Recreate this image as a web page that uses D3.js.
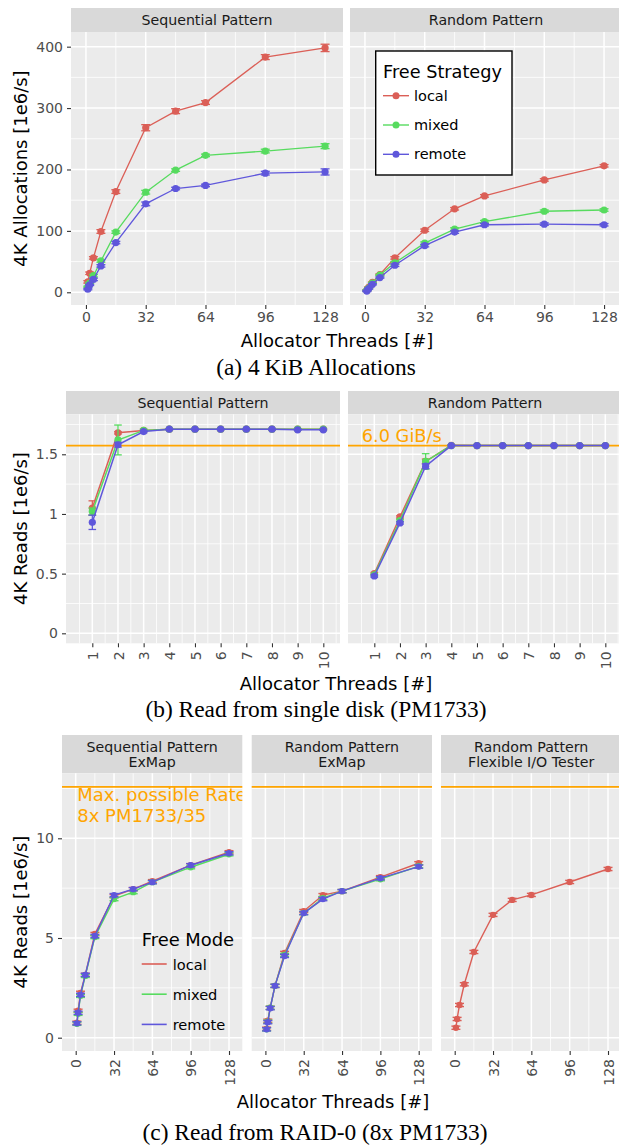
<!DOCTYPE html>
<html>
<head>
<meta charset="utf-8">
<script src="https://cdn.jsdelivr.net/npm/d3@7"></script>
<style>
  body { margin: 0; background: #fff; }
  text { font-family: "DejaVu Sans", sans-serif; }
</style>
</head>
<body>
<div id="chart"></div>
<script>
/*
------------------------------
DATA
------------------------------
*/
const modes = ["local", "mixed", "remote"];
const modeColors = ["#db5f57", "#57db5f", "#5f57db"];

const threads = [1, 2, 4, 8, 16, 32, 48, 64, 96, 128];
const diskThreads = [1, 2, 3, 4, 5, 6, 7, 8, 9, 10];

// (a) 4 KiB allocations [1e6/s]
const allocSeqLocal = [17, 31, 56, 99, 164, 268, 295, 309, 383, 398];
const allocSeqMixed = [9, 15, 27, 51, 98, 163, 199, 223, 230, 238];
const allocSeqRemote = [5, 12, 21, 43, 81, 144, 169, 174, 194, 196];
const allocSeqLocalErr = [2, 2, 2, 3, 3, 5, 4, 3, 4, 6];
const allocSeqMixedErr = [1, 1, 2, 2, 2, 3, 2, 2, 3, 4];
const allocSeqRemoteErr = [1, 1, 2, 2, 2, 3, 2, 2, 3, 5];
const allocRndLocal = [3, 8, 16, 29, 56, 101, 136, 157, 183, 206];
const allocRndMixed = [3, 7, 15, 28, 48, 80, 103, 115, 132, 134];
const allocRndRemote = [2, 6, 13, 24, 44, 76, 98, 110, 111, 110];
const allocRndLocalErr = [1, 1, 1, 1, 2, 2, 2, 2, 2, 2];
const allocRndMixedErr = [1, 1, 1, 1, 2, 2, 2, 2, 2, 2];
const allocRndRemoteErr = [1, 1, 1, 1, 2, 2, 2, 2, 2, 2];

// (b) single disk reads [1e6/s]
const diskSeqLocal = [1.05, 1.68, 1.70, 1.71, 1.71, 1.71, 1.71, 1.71, 1.71, 1.71];
const diskSeqMixed = [1.02, 1.62, 1.70, 1.71, 1.71, 1.71, 1.71, 1.71, 1.71, 1.71];
const diskSeqRemote = [0.93, 1.58, 1.69, 1.71, 1.71, 1.71, 1.71, 1.71, 1.705, 1.705];
const diskSeqLocalErr = [0.06, 0.01, 0.01, 0.005, 0.005, 0.005, 0.005, 0.005, 0.005, 0.005];
const diskSeqMixedErr = [0.03, 0.125, 0.01, 0.005, 0.005, 0.005, 0.005, 0.005, 0.005, 0.005];
const diskSeqRemoteErr = [0.06, 0.02, 0.01, 0.005, 0.005, 0.005, 0.005, 0.005, 0.005, 0.005];
const diskRndLocal = [0.50, 0.975, 1.44, 1.575, 1.573, 1.573, 1.573, 1.573, 1.573, 1.573];
const diskRndMixed = [0.49, 0.945, 1.44, 1.573, 1.573, 1.573, 1.573, 1.573, 1.573, 1.573];
const diskRndRemote = [0.48, 0.925, 1.40, 1.573, 1.573, 1.573, 1.573, 1.573, 1.573, 1.573];
const diskRndLocalErr = [0.01, 0.01, 0.02, 0.005, 0.005, 0.005, 0.005, 0.005, 0.005, 0.005];
const diskRndMixedErr = [0.01, 0.01, 0.065, 0.005, 0.005, 0.005, 0.005, 0.005, 0.005, 0.005];
const diskRndRemoteErr = [0.01, 0.01, 0.02, 0.005, 0.005, 0.005, 0.005, 0.005, 0.005, 0.005];
const diskLimit = 1.5729;   // 6.0 GiB/s

// (c) RAID-0 reads [1e6/s]
const raidSeqLocal = [0.75, 1.35, 2.25, 3.15, 5.2, 7.1, 7.45, 7.85, 8.65, 9.3];
const raidSeqMixed = [0.7, 1.2, 2.1, 3.1, 5.05, 6.95, 7.3, 7.8, 8.55, 9.2];
const raidSeqRemote = [0.72, 1.25, 2.15, 3.15, 5.1, 7.15, 7.45, 7.8, 8.65, 9.25];
const raidRndLocal = [0.45, 0.85, 1.5, 2.6, 4.25, 6.35, 7.15, 7.35, 8.05, 8.75];
const raidRndMixed = [0.42, 0.8, 1.5, 2.6, 4.15, 6.25, 7.0, 7.35, 7.95, 8.6];
const raidRndRemote = [0.42, 0.78, 1.48, 2.6, 4.1, 6.25, 6.95, 7.35, 8.0, 8.58];
const raidFioLocal = [0.5, 0.94, 1.64, 2.68, 4.3, 6.16, 6.91, 7.16, 7.81, 8.46];
const raidErr = [0.08, 0.08, 0.08, 0.08, 0.08, 0.08, 0.08, 0.08, 0.08, 0.08];
const raidLimit = 12.58;    // 8x PM1733 / 35

const threadTicks = [0, 32, 64, 96, 128];
const threadMinor = [16, 48, 80, 112];

/*
------------------------------
METHOD: set up the svg
------------------------------
*/
const width = 619, height = 1146;
const svg = d3.select("#chart").append("svg")
    .attr("width", width)
    .attr("height", height);

const orange = "#ffa500";

/*
------------------------------
METHOD: draw one facet (strip, panel, grid, axes)
------------------------------
*/
function drawFacet(f) {
  let x = d3.scaleLinear().domain(f.xDomain).range([f.left, f.right]);
  let y = d3.scaleLinear().domain(f.yDomain).range([f.bottom, f.top]);
  let g = svg.append("g");

  g.append("rect")
    .attr("x", f.left).attr("y", f.stripTop)
    .attr("width", f.right - f.left).attr("height", f.top - f.stripTop)
    .attr("fill", "#d9d9d9");

  let mid = (f.stripTop + f.top) / 2;
  f.strip.forEach(function(s, i) {
    g.append("text")
      .attr("x", (f.left + f.right) / 2)
      .attr("y", mid + (i - (f.strip.length - 1) / 2) * 14.7)
      .attr("dy", "0.36em")
      .attr("text-anchor", "middle")
      .attr("font-size", 14.2)
      .attr("fill", "#1a1a1a")
      .text(s);
  });

  g.append("rect")
    .attr("x", f.left).attr("y", f.top)
    .attr("width", f.right - f.left).attr("height", f.bottom - f.top)
    .attr("fill", "#ebebeb");

  // minor then major grid
  g.selectAll(".xminor").data(f.xMinor).join("line")
    .attr("x1", d => x(d)).attr("x2", d => x(d))
    .attr("y1", f.top).attr("y2", f.bottom)
    .attr("stroke", "#fff").attr("stroke-width", 0.8);
  g.selectAll(".yminor").data(f.yMinor).join("line")
    .attr("y1", d => y(d)).attr("y2", d => y(d))
    .attr("x1", f.left).attr("x2", f.right)
    .attr("stroke", "#fff").attr("stroke-width", 0.8);
  g.selectAll(".xmajor").data(f.xTicks).join("line")
    .attr("x1", d => x(d)).attr("x2", d => x(d))
    .attr("y1", f.top).attr("y2", f.bottom)
    .attr("stroke", "#fff").attr("stroke-width", 1.5);
  g.selectAll(".ymajor").data(f.yTicks).join("line")
    .attr("y1", d => y(d)).attr("y2", d => y(d))
    .attr("x1", f.left).attr("x2", f.right)
    .attr("stroke", "#fff").attr("stroke-width", 1.5);

  // x axis
  let xAxis = g.append("g")
    .attr("transform", "translate(0," + f.bottom + ")")
    .call(d3.axisBottom(x).tickValues(f.xTicks).tickSize(4).tickPadding(3).tickFormat(d3.format("d")));
  styleAxis(xAxis);
  if (f.rotateX) {
    xAxis.selectAll("text")
      .attr("transform", "rotate(-90)")
      .attr("x", -8).attr("y", 0)
      .attr("dy", "0.36em")
      .attr("text-anchor", "end");
  }

  // y axis only on the first facet of a row
  if (f.yLabels) {
    let yAxis = g.append("g")
      .attr("transform", "translate(" + f.left + ",0)")
      .call(d3.axisLeft(y).tickValues(f.yTicks).tickSize(4).tickPadding(4).tickFormat((d, i) => f.yLabels[i]));
    styleAxis(yAxis);
  }

  return {x: x, y: y, g: g, f: f};
}

function styleAxis(a) {
  a.attr("font-family", null).attr("font-size", null);
  a.select(".domain").remove();
  a.selectAll("line").attr("stroke", "#333").attr("stroke-width", 1.1);
  a.selectAll("text").attr("fill", "#4d4d4d").attr("font-size", 14);
}

/*
------------------------------
METHOD: draw one series (line, error bars, points)
------------------------------
*/
function drawSeries(fc, xs, ys, errs, color, o) {
  let pts = xs.map((v, i) => ({x: v, y: ys[i], e: errs[i]}));
  let line = d3.line().x(d => fc.x(d.x)).y(d => fc.y(d.y));

  fc.g.append("path").datum(pts)
    .attr("fill", "none")
    .attr("stroke", color)
    .attr("stroke-width", o.lw)
    .attr("d", line);

  fc.g.selectAll(null).data(pts).join("circle")
    .attr("cx", d => fc.x(d.x))
    .attr("cy", d => fc.y(d.y))
    .attr("r", o.r)
    .attr("fill", color);

  let eb = fc.g.selectAll(null).data(pts).join("g")
    .attr("stroke", color).attr("stroke-width", o.ew);
  eb.append("line")
    .attr("x1", d => fc.x(d.x)).attr("x2", d => fc.x(d.x))
    .attr("y1", d => fc.y(d.y - d.e)).attr("y2", d => fc.y(d.y + d.e));
  eb.append("line")
    .attr("x1", d => fc.x(d.x) - o.cap).attr("x2", d => fc.x(d.x) + o.cap)
    .attr("y1", d => fc.y(d.y - d.e)).attr("y2", d => fc.y(d.y - d.e));
  eb.append("line")
    .attr("x1", d => fc.x(d.x) - o.cap).attr("x2", d => fc.x(d.x) + o.cap)
    .attr("y1", d => fc.y(d.y + d.e)).attr("y2", d => fc.y(d.y + d.e));
}

function hline(fc, v) {
  fc.g.append("line")
    .attr("x1", fc.f.left).attr("x2", fc.f.right)
    .attr("y1", fc.y(v)).attr("y2", fc.y(v))
    .attr("stroke", orange).attr("stroke-width", 1.8);
}

function label(txt, x, y, o) {
  let t = svg.append("text")
    .attr("x", x).attr("y", y)
    .attr("text-anchor", o.anchor || "middle")
    .attr("font-size", o.size)
    .attr("fill", o.fill || "#000")
    .text(txt);
  if (o.serif) t.style("font-family", "'Liberation Serif', 'Times New Roman', serif");
  if (o.rotate) t.attr("transform", "rotate(-90," + x + "," + y + ")");
  return t;
}

/*
------------------------------
(a) 4 KiB Allocations
------------------------------
*/
let aBase = {xDomain: [-8, 137.6], yDomain: [-20.7, 423.9], stripTop: 8, top: 32, bottom: 305,
  xTicks: threadTicks, xMinor: threadMinor, yTicks: [0, 100, 200, 300, 400], yMinor: [50, 150, 250, 350]};
let aSeq = drawFacet(Object.assign({}, aBase, {left: 71, right: 343, strip: ["Sequential Pattern"],
  yLabels: ["0", "100", "200", "300", "400"]}));
let aRnd = drawFacet(Object.assign({}, aBase, {left: 350, right: 622, strip: ["Random Pattern"]}));

let aStyle = {lw: 1.3, r: 3.6, ew: 1.3, cap: 4.5};
[[allocSeqLocal, allocSeqLocalErr], [allocSeqMixed, allocSeqMixedErr], [allocSeqRemote, allocSeqRemoteErr]]
  .forEach((s, i) => drawSeries(aSeq, threads, s[0], s[1], modeColors[i], aStyle));
[[allocRndLocal, allocRndLocalErr], [allocRndMixed, allocRndMixedErr], [allocRndRemote, allocRndRemoteErr]]
  .forEach((s, i) => drawSeries(aRnd, threads, s[0], s[1], modeColors[i], aStyle));

// legend with box
let legA = svg.append("g");
legA.append("rect").attr("x", 375.7).attr("y", 51).attr("width", 136.3).attr("height", 124)
  .attr("fill", "#fff").attr("stroke", "#000").attr("stroke-width", 1.4);
label("Free Strategy", 383, 77.5, {size: 17.7, anchor: "start"});
modes.forEach(function(m, i) {
  let ky = 95.7 + i * 29.3;
  legA.append("line").attr("x1", 383).attr("x2", 409).attr("y1", ky).attr("y2", ky)
    .attr("stroke", modeColors[i]).attr("stroke-width", 1.4);
  legA.append("circle").attr("cx", 396).attr("cy", ky).attr("r", 3.5).attr("fill", modeColors[i]);
  legA.append("text").attr("x", 414).attr("y", ky).attr("dy", "0.35em")
    .attr("font-size", 14.5).text(m);
});

label("4K Allocations [1e6/s]", 27, 168.5, {size: 18, rotate: true});
label("Allocator Threads [#]", 337, 347, {size: 18});
label("(a) 4\u2009KiB Allocations", 316, 375, {size: 23.4, serif: true});

/*
------------------------------
(b) Read from single disk
------------------------------
*/
let bBase = {xDomain: [-0.025, 10.65], yDomain: [-0.0837, 1.835], stripTop: 391, top: 414.3, bottom: 643.3,
  xTicks: diskThreads, xMinor: diskThreads.map(d => d - 0.5).concat([10.5]),
  yTicks: [0, 0.5, 1, 1.5], yMinor: [0.25, 0.75, 1.25, 1.75], rotateX: true};
let bSeq = drawFacet(Object.assign({}, bBase, {left: 66, right: 340, strip: ["Sequential Pattern"],
  yLabels: ["0", "0.5", "1", "1.5"]}));
let bRnd = drawFacet(Object.assign({}, bBase, {left: 348, right: 622, strip: ["Random Pattern"]}));

hline(bSeq, diskLimit);
hline(bRnd, diskLimit);
label("6.0 GiB/s", 361.7, 441.5, {size: 17.8, anchor: "start", fill: orange});

let bStyle = {lw: 1.5, r: 3.6, ew: 1.3, cap: 3.8};
[[diskSeqLocal, diskSeqLocalErr], [diskSeqMixed, diskSeqMixedErr], [diskSeqRemote, diskSeqRemoteErr]]
  .forEach((s, i) => drawSeries(bSeq, diskThreads, s[0], s[1], modeColors[i], bStyle));
[[diskRndLocal, diskRndLocalErr], [diskRndMixed, diskRndMixedErr], [diskRndRemote, diskRndRemoteErr]]
  .forEach((s, i) => drawSeries(bRnd, diskThreads, s[0], s[1], modeColors[i], bStyle));

label("4K Reads [1e6/s]", 27, 528.5, {size: 18, rotate: true});
label("Allocator Threads [#]", 336, 690, {size: 18});
label("(b) Read from single disk (PM1733)", 316, 717, {size: 23.4, serif: true});

/*
------------------------------
(c) Read from RAID-0
------------------------------
*/
let cBase = {xDomain: [-11.44, 139.1], yDomain: [-0.667, 13.26], stripTop: 735, top: 773.3, bottom: 1051,
  xTicks: threadTicks, xMinor: threadMinor, yTicks: [0, 5, 10], yMinor: [2.5, 7.5, 12.5], rotateX: true};
let cSeq = drawFacet(Object.assign({}, cBase, {left: 62, right: 242.3, strip: ["Sequential Pattern", "ExMap"],
  yLabels: ["0", "5", "10"]}));
let cRnd = drawFacet(Object.assign({}, cBase, {left: 251.7, right: 432, strip: ["Random Pattern", "ExMap"]}));
let cFio = drawFacet(Object.assign({}, cBase, {left: 441, right: 621.3, strip: ["Random Pattern", "Flexible I/O Tester"]}));

[cSeq, cRnd, cFio].forEach(fc => hline(fc, raidLimit));

// annotation clipped to the first facet
svg.append("clipPath").attr("id", "clipSeq")
  .append("rect").attr("x", 62).attr("y", 773.3).attr("width", 180.3).attr("height", 277.7);
let ann = svg.append("g").attr("clip-path", "url(#clipSeq)");
["Max. possible Rate", "8x PM1733/35"].forEach(function(t, i) {
  ann.append("text").attr("x", 77.3).attr("y", 801 + i * 20.5)
    .attr("font-size", 18).attr("fill", orange).text(t);
});

let cStyle = {lw: 1.4, r: 3.2, ew: 1.4, cap: 4.5};
[raidSeqLocal, raidSeqMixed, raidSeqRemote]
  .forEach((s, i) => drawSeries(cSeq, threads, s, raidErr, modeColors[i], cStyle));
[raidRndLocal, raidRndMixed, raidRndRemote]
  .forEach((s, i) => drawSeries(cRnd, threads, s, raidErr, modeColors[i], cStyle));
drawSeries(cFio, threads, raidFioLocal, raidErr, modeColors[0], cStyle);

// legend without box
label("Free Mode", 141.7, 946, {size: 17.9, anchor: "start"});
modes.forEach(function(m, i) {
  let ky = 964 + i * 30.2;
  svg.append("line").attr("x1", 141.7).attr("x2", 166.7).attr("y1", ky).attr("y2", ky)
    .attr("stroke", modeColors[i]).attr("stroke-width", 1.6);
  svg.append("text").attr("x", 172.7).attr("y", ky).attr("dy", "0.38em")
    .attr("font-size", 14.6).text(m);
});

label("4K Reads [1e6/s]", 27, 912, {size: 18, rotate: true});
label("Allocator Threads [#]", 333, 1108, {size: 18});
label("(c) Read from RAID-0 (8x PM1733)", 315, 1140, {size: 23.4, serif: true});
</script>
</body>
</html>
